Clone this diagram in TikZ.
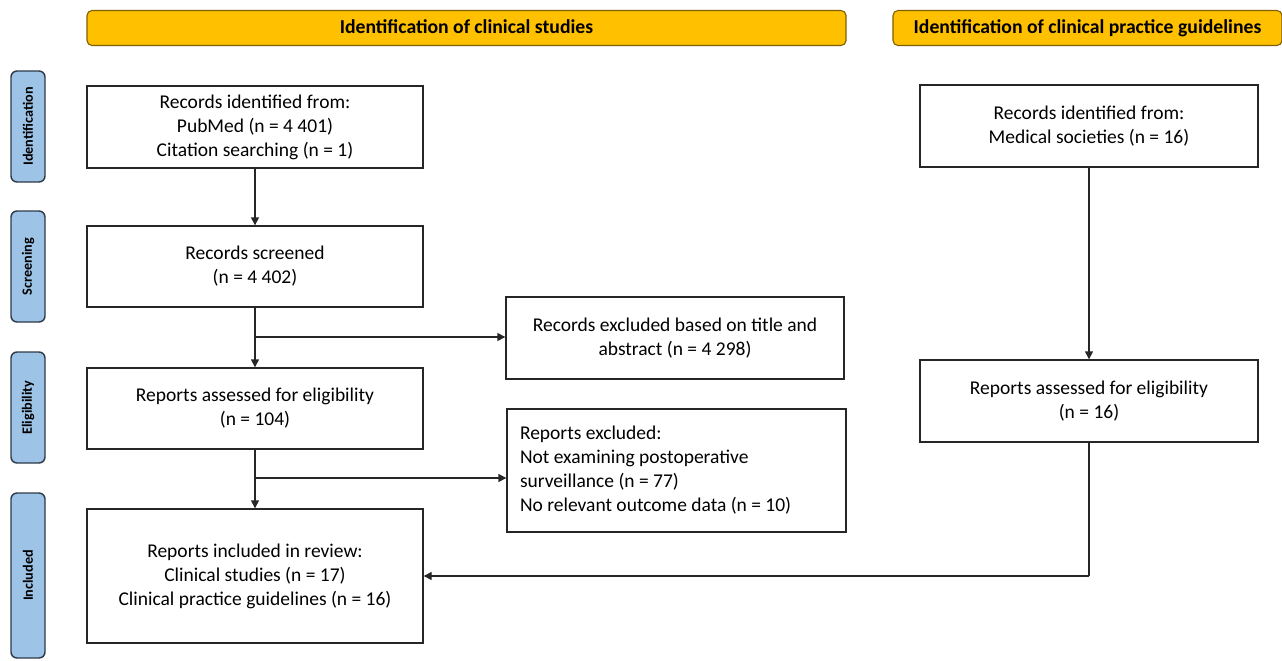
\documentclass[tikz,border=0pt]{standalone}
\usepackage{fontspec}
\setmainfont{Carlito}
\usetikzlibrary{arrows.meta}
\definecolor{hdrgold}{HTML}{FFC000}
\definecolor{hdrline}{HTML}{7F6000}
\definecolor{sideblue}{HTML}{9DC3E6}
\definecolor{sideline}{HTML}{2E3A48}
\tikzset{
  box/.style={draw=black!85, line width=1.4pt, fill=white, align=center,
    font=\fontsize{19.5}{24}\selectfont, inner sep=0pt},
  hdr/.style={draw=hdrline, line width=1.1pt, fill=hdrgold, rounded corners=5pt,
    font=\fontsize{19.7}{23}\selectfont\bfseries, inner sep=0pt,
    text height=15pt, text depth=3pt},
  side/.style={draw=sideline, line width=1.4pt, fill=sideblue, rounded corners=6pt,
    font=\fontsize{14.2}{17}\selectfont\bfseries, inner sep=0pt, rotate=90},
  conn/.style={line width=1.4pt, draw=black!85},
  arr/.style={conn, -{Triangle[length=8pt,width=8pt]}},
}
\begin{document}
\begin{tikzpicture}[x=1pt,y=-1pt]
\useasboundingbox (0,0) rectangle (1282,661);
% headers
\node[hdr, minimum width=759pt, minimum height=35pt] (hL) at (466.5,28) {Identification of clinical studies};
\node[hdr, minimum width=389pt, minimum height=35pt] (hR) at (1087.5,28) {Identification of clinical practice guidelines};
% side labels (rotated: width is vertical extent)
\node[side, minimum width=111pt, minimum height=34pt] (sI) at (28,126.5) {Identification};
\node[side, minimum width=111pt, minimum height=34pt] (sS) at (28,266.5) {Screening};
\node[side, minimum width=111pt, minimum height=34pt] (sE) at (28,407.5) {Eligibility};
\node[side, minimum width=165pt, minimum height=34pt] (sN) at (28,575.5) {Included};
% left column
\node[box, minimum width=336pt, minimum height=82pt] (id) at (255,127) {Records identified from:\\PubMed (n = 4 401)\\Citation searching (n = 1)};
\node[box, minimum width=336pt, minimum height=81pt] (scr) at (255,266.5) {Records screened\\(n = 4 402)};
\node[box, minimum width=336pt, minimum height=81pt] (el) at (255,408.5) {Reports assessed for eligibility\\(n = 104)};
\node[box, minimum width=336pt, minimum height=134pt] (inc) at (255,576) {Reports included in review:\\Clinical studies (n = 17)\\Clinical practice guidelines (n = 16)};
% exclusion boxes
\node[box, minimum width=338pt, minimum height=82pt] (ex1) at (675,338) {Records excluded based on title and\\abstract (n = 4 298)};
\node[box, minimum width=339pt, minimum height=123pt, align=flush left, text width=313pt] (ex2) at (676.5,470.5) {Reports excluded:\\Not examining postoperative\\surveillance (n = 77)\\No relevant outcome data (n = 10)};
% right column
\node[box, minimum width=338pt, minimum height=82pt] (idR) at (1089,126) {Records identified from:\\Medical societies (n = 16)};
\node[box, minimum width=338pt, minimum height=82pt] (elR) at (1089,401) {Reports assessed for eligibility\\(n = 16)};
% connectors
\coordinate (b1) at (255,337);
\coordinate (b2) at (255,478);
\coordinate (cR) at (1089,576);
\draw[arr] (id) -- (scr);
\draw[arr] (scr) -- (el);
\draw[arr] (b1) -- (ex1.west |- b1);
\draw[arr] (el) -- (inc);
\draw[arr] (b2) -- (ex2.west |- b2);
\draw[arr] (idR) -- (elR);
\draw[conn] (elR.south) -- (cR);
\draw[arr] (cR) -- (inc.east |- cR);
\end{tikzpicture}
\end{document}
